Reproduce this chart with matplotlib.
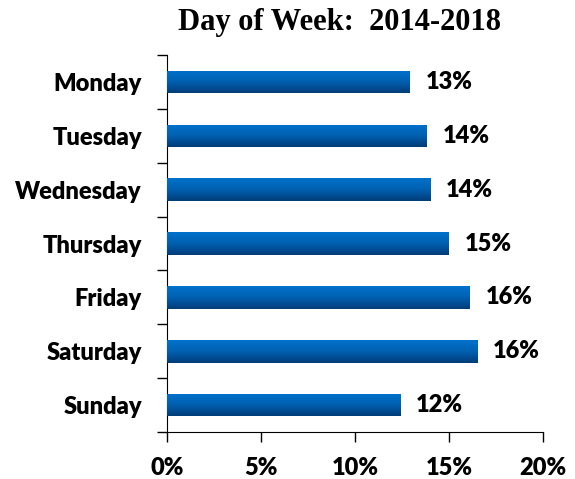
import numpy as np
import matplotlib
matplotlib.use('Agg')
import matplotlib.pyplot as plt
from matplotlib.colors import LinearSegmentedColormap

days = ['Monday', 'Tuesday', 'Wednesday', 'Thursday', 'Friday', 'Saturday', 'Sunday']
shares = [12.9, 13.8, 14.0, 15.0, 16.1, 16.5, 12.4]
value_labels = ['13%', '14%', '14%', '15%', '16%', '16%', '12%']
xticks = [0, 5, 10, 15, 20]
xtick_labels = ['0%', '5%', '10%', '15%', '20%']

fig = plt.figure(figsize=(5.75, 4.79), dpi=100)
ax = fig.add_axes([0.2904, 0.0981, 0.6539, 0.7869])

ypos = np.arange(len(days))
bars = ax.barh(ypos, shares, height=0.42, color='#0060b0', edgecolor='none')

# vertical gradient inside every bar
grad = LinearSegmentedColormap.from_list('g', ['#0072cc', '#0060b0', '#003c78'])
g = np.linspace(0, 1, 64).reshape(-1, 1)
for b in bars:
    x0, y0 = b.get_x(), b.get_y()
    w, h = b.get_width(), b.get_height()
    im = ax.imshow(g, cmap=grad, aspect='auto', extent=[x0, x0 + w, y0 + h, y0],
                   origin='upper', zorder=3)
    im.set_clip_path(b)

lab_font = dict(fontsize=17, fontweight='heavy', family='Lato')

for y, v, lab in zip(ypos, shares, value_labels):
    ax.text(v + 0.85, y, lab, va='center', ha='left', **lab_font)

ax.set_ylim(len(days) - 0.5, -0.5)
ax.set_xlim(0, 20)
ax.set_yticks(ypos)
ax.set_yticklabels(days, **lab_font)
ax.set_yticks(np.arange(-0.5, len(days), 1), minor=True)
ax.tick_params(axis='y', which='major', length=0, pad=18)
ax.tick_params(axis='y', which='minor', length=7, width=1, direction='out')
ax.set_xticks(xticks)
ax.set_xticklabels(xtick_labels, **lab_font)
ax.tick_params(axis='x', length=7, width=1, direction='out', pad=11)
ax.spines['top'].set_visible(False)
ax.spines['right'].set_visible(False)

fig.text(0.59, 0.954, 'Day of Week:  2014-2018', ha='center', va='center',
         fontsize=22, fontweight='bold', family='Liberation Serif')

fig.savefig('out.png', dpi=100)
